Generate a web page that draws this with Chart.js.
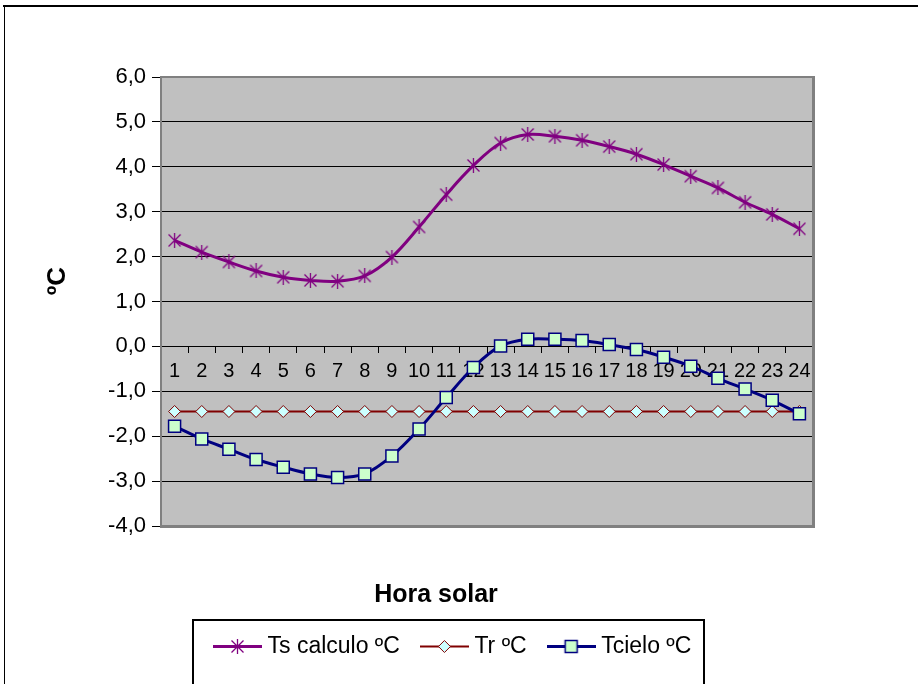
<!DOCTYPE html>
<html>
<head>
<meta charset="utf-8">
<script src="https://cdn.jsdelivr.net/npm/chart.js@4/dist/chart.umd.min.js"></script>
<style>
  html, body { margin: 0; padding: 0; background: #ffffff; }
  canvas { display: block; }
</style>
</head>
<body>
<canvas id="grafico" width="922" height="684"></canvas>
<script>
// Hourly temperatures over a solar day
const horas = ['1','2','3','4','5','6','7','8','9','10','11','12',
               '13','14','15','16','17','18','19','20','21','22','23','24'];
const tsCalculo = [2.36, 2.10, 1.88, 1.68, 1.54, 1.47, 1.45, 1.57, 1.99, 2.66, 3.38, 4.03,
                   4.53, 4.72, 4.68, 4.59, 4.45, 4.28, 4.05, 3.79, 3.53, 3.21, 2.94, 2.62];
const tr = [-1.45, -1.45, -1.45, -1.45, -1.45, -1.45, -1.45, -1.45, -1.45, -1.45, -1.45, -1.45,
            -1.45, -1.45, -1.45, -1.45, -1.45, -1.45, -1.45, -1.45, -1.45, -1.45, -1.45, -1.45];
const tCielo = [-1.78, -2.06, -2.29, -2.52, -2.69, -2.84, -2.92, -2.84, -2.44, -1.84, -1.14, -0.47,
                0.01, 0.16, 0.16, 0.13, 0.04, -0.07, -0.24, -0.44, -0.71, -0.95, -1.20, -1.50];
const seriesNames = ['Ts calculo ºC', 'Tr ºC', 'Tcielo ºC'];
const yMin = -4, yMax = 6, yStep = 1;
const xTitle = 'Hora solar';
const yTitle = 'ºC';

const FONT = '"Liberation Sans", Arial, Helvetica, sans-serif';

// asterisk marker: vertical bar plus a cross
function makeStar(color) {
  const c = document.createElement('canvas');
  c.width = 15; c.height = 15;
  const g = c.getContext('2d');
  g.strokeStyle = color;
  g.lineWidth = 1.3;
  g.beginPath();
  g.moveTo(7.5, 0); g.lineTo(7.5, 15);
  g.moveTo(1.5, 1.5); g.lineTo(13.5, 13.5);
  g.moveTo(13.5, 1.5); g.lineTo(1.5, 13.5);
  g.stroke();
  return c;
}
const starMarker = makeStar('#800080');

const datasets = [
  {
    label: seriesNames[0], data: tsCalculo,
    borderColor: '#800080', borderWidth: 3, tension: 0.35,
    pointStyle: starMarker, pointRadius: 7,
    pointBackgroundColor: '#800080', pointBorderColor: '#800080', pointBorderWidth: 1,
    order: 3
  },
  {
    label: seriesNames[1], data: tr,
    borderColor: '#800000', borderWidth: 2, tension: 0,
    pointStyle: 'rectRot', pointRadius: 6,
    pointBackgroundColor: '#CCFFFF', pointBorderColor: '#800000', pointBorderWidth: 1,
    order: 2
  },
  {
    label: seriesNames[2], data: tCielo,
    borderColor: '#000080', borderWidth: 3, tension: 0.35,
    pointStyle: 'rect', pointRadius: 8.5,
    pointBackgroundColor: '#CCFFCC', pointBorderColor: '#000080', pointBorderWidth: 1.5,
    order: 1
  }
];

// legend swatch: short line with the series marker in the middle
function legendSample(ds) {
  const c = document.createElement('canvas');
  c.width = 49; c.height = 21;
  const g = c.getContext('2d');
  g.strokeStyle = ds.borderColor;
  g.lineWidth = ds.borderWidth;
  g.beginPath(); g.moveTo(0, 10.5); g.lineTo(49, 10.5); g.stroke();
  g.fillStyle = ds.pointBackgroundColor;
  g.strokeStyle = ds.pointBorderColor;
  g.lineWidth = ds.pointBorderWidth;
  Chart.helpers.drawPoint(g, {
    pointStyle: ds.pointStyle, radius: ds.pointRadius,
    borderWidth: ds.pointBorderWidth, rotation: 0
  }, 24.5, 10.5);
  return c;
}
const samples = datasets.map(legendSample);

// plot background, frames, and the rotated unit label
const decor = {
  id: 'decor',
  beforeDraw(chart) {
    const { ctx, chartArea: a } = chart;
    ctx.save();
    ctx.fillStyle = '#ffffff';
    ctx.fillRect(0, 0, chart.width, chart.height);
    ctx.fillStyle = '#000000';
    ctx.fillRect(3, 5, 915, 2);
    ctx.fillRect(4, 5, 1, chart.height - 5);
    ctx.fillStyle = '#C0C0C0';
    ctx.fillRect(a.left, a.top, a.right - a.left, a.bottom - a.top);
    ctx.restore();
  },
  afterLayout(chart) {
    const t = chart.titleBlock;
    if (t) {
      const w = t.right - t.left;
      t.left = 436 - w / 2;
      t.right = t.left + w;
    }
    const lg = chart.legend;
    if (lg) {
      lg.left = 219 - lg.options.labels.padding;
      lg.right = chart.width;
    }
  },
  beforeDatasetsDraw(chart) {
    const { ctx, chartArea: a } = chart;
    ctx.save();
    ctx.fillStyle = '#808080';
    ctx.fillRect(a.left - 1, a.top - 1, a.right - a.left + 2, 2);
    ctx.fillRect(a.left - 1, a.top - 1, 2, a.bottom - a.top + 2);
    ctx.fillRect(a.right - 1, a.top - 1, 3, a.bottom - a.top + 3);
    ctx.fillRect(a.left - 1, a.bottom - 1, a.right - a.left + 3, 3);
    ctx.restore();
  },
  afterDraw(chart) {
    const { ctx } = chart;
    const lg = chart.legend;
    ctx.save();
    if (lg && lg.legendHitBoxes && lg.legendHitBoxes.length) {
      const hb = lg.legendHitBoxes;
      const last = hb[hb.length - 1];
      const x0 = Math.round(hb[0].left - 26);
      const x1 = Math.round(last.left + last.width + 13);
      ctx.strokeStyle = '#000000';
      ctx.lineWidth = 2;
      ctx.strokeRect(x0, Math.round(hb[0].top - 15), x1 - x0, 120);
    }
    ctx.translate(58, 281);
    ctx.rotate(-Math.PI / 2);
    ctx.fillStyle = '#000000';
    ctx.font = 'bold 26px ' + FONT;
    ctx.textAlign = 'center';
    ctx.textBaseline = 'middle';
    ctx.fillText(yTitle, 0, 0);
    ctx.restore();
  }
};

new Chart(document.getElementById('grafico'), {
  type: 'line',
  data: { labels: horas, datasets: datasets },
  plugins: [decor],
  options: {
    responsive: false,
    animation: false,
    devicePixelRatio: 1,
    layout: { padding: { top: 77, left: 0, right: 109, bottom: 16 } },
    elements: { line: { fill: false } },
    scales: {
      x: {
        type: 'category',
        position: { y: 0 },
        offset: true,
        grid: {
          offset: true, drawOnChartArea: false, drawTicks: true,
          tickLength: 6, color: '#000000', tickColor: '#000000'
        },
        border: { display: true, color: '#000000', width: 1 },
        ticks: {
          autoSkip: false, maxRotation: 0, minRotation: 0, padding: 7,
          color: '#000000', font: { family: FONT, size: 20 }
        },
        afterFit(scale) { scale.paddingLeft = 0; scale.paddingRight = 0; }
      },
      y: {
        position: 'left',
        min: yMin, max: yMax,
        grid: {
          color: (c) => (c.tick && (c.tick.value === yMin || c.tick.value === yMax)) ? 'rgba(0,0,0,0)' : '#000000',
          tickColor: '#000000', tickLength: 9, lineWidth: 1
        },
        border: { display: false },
        ticks: {
          stepSize: yStep, padding: 6, color: '#000000',
          font: { family: FONT, size: 22 },
          callback: (v) => Number(v).toFixed(1).replace('.', ',')
        },
        afterFit(scale) { scale.width = 161; scale.paddingTop = 0; scale.paddingBottom = 0; }
      }
    },
    plugins: {
      tooltip: { enabled: false },
      title: {
        display: true, text: xTitle, position: 'bottom', fullSize: true,
        color: '#000000', font: { family: FONT, size: 25, weight: 'bold', lineHeight: 1 },
        padding: { top: 57, bottom: 1 }
      },
      legend: {
        display: true, position: 'bottom', align: 'start', weight: 3000, fullSize: true,
        labels: {
          usePointStyle: true, pointStyleWidth: 37, padding: 26,
          color: '#000000', font: { family: FONT, size: 23 },
          generateLabels: (chart) => chart.data.datasets.map((ds, i) => ({
            text: ds.label, pointStyle: samples[i], datasetIndex: i,
            hidden: false, lineWidth: 0, rotation: 0,
            fillStyle: 'rgba(0,0,0,0)', strokeStyle: 'rgba(0,0,0,0)', fontColor: '#000000'
          }))
        }
      }
    }
  }
});
</script>
</body>
</html>
